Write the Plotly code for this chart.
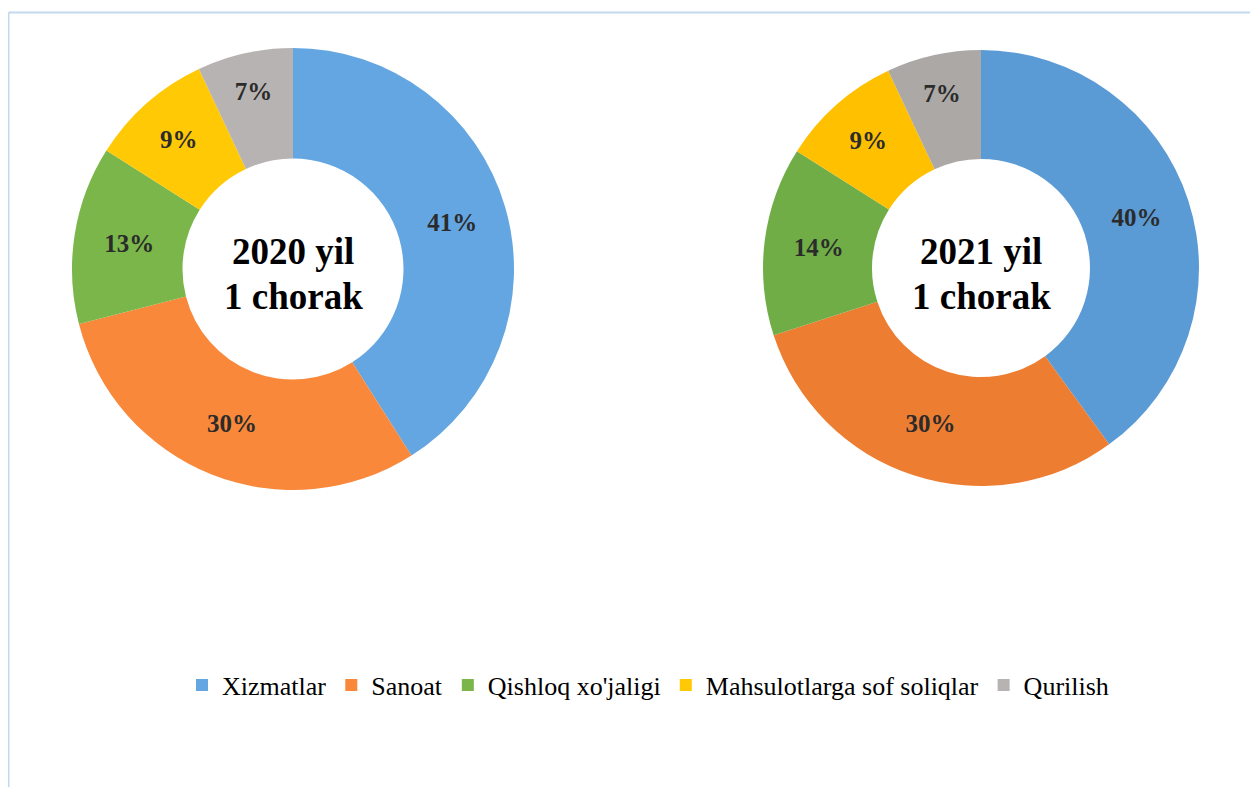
import plotly.graph_objects as go

# page body has an 8px margin; reference coordinates are given in page pixels
OFF = 8
W, H = 1258 - OFF, 787 - OFF

categories = ["Xizmatlar", "Sanoat", "Qishloq xo'jaligi", "Mahsulotlarga sof soliqlar", "Qurilish"]
values_2020 = [41, 30, 13, 9, 7]
values_2021 = [40, 30, 14, 9, 7]
colors_2020 = ["#64A6E1", "#F9883A", "#7AB64A", "#FFC906", "#B7B3B2"]
colors_2021 = ["#5B9BD5", "#ED7D31", "#70AD47", "#FFC000", "#ABA8A6"]
center_2020 = ["2020 yil", "1 chorak"]
center_2021 = ["2021 yil", "1 chorak"]


def px(x):
    return (x - OFF) / W


def py(y):
    return 1 - (y - OFF) / H


def px_domain(x0, x1, y0, y1):
    return dict(x=[px(x0), px(x1)], y=[py(y1), py(y0)])


label_font = dict(family="Liberation Serif", size=25, color="#2B2B2B")

fig = go.Figure()
fig.add_trace(go.Pie(
    labels=categories, values=values_2020, hole=0.5, sort=False,
    direction="clockwise", rotation=0,
    marker=dict(colors=colors_2020, line=dict(width=0)),
    texttemplate="<b>%{percent:.0%}</b>",
    textposition="inside", insidetextorientation="horizontal",
    textfont=label_font,
    domain=px_domain(72, 514, 48, 490),
    showlegend=True, hoverinfo="label+value",
))
fig.add_trace(go.Pie(
    labels=categories, values=values_2021, hole=0.5, sort=False,
    direction="clockwise", rotation=0,
    marker=dict(colors=colors_2021, line=dict(width=0)),
    texttemplate="<b>%{percent:.0%}</b>",
    textposition="inside", insidetextorientation="horizontal",
    textfont=label_font,
    domain=px_domain(763, 1199, 50, 486),
    showlegend=False, hoverinfo="label+value",
))

center_font = dict(family="Liberation Serif", size=37, color="#000000")
for cx, lines in ((293, center_2020), (981, center_2021)):
    for i, line in enumerate(lines):
        fig.add_annotation(x=px(cx), y=py(252 + 44 * i), xref="paper", yref="paper",
                           xanchor="center", yanchor="middle",
                           text="<b>" + line + "</b>", showarrow=False,
                           font=center_font)

border = "#C3D9EF"
fig.add_shape(type="line", xref="paper", yref="paper",
              x0=px(8.5), x1=px(8.5), y0=0, y1=py(12.5),
              line=dict(color=border, width=2))
fig.add_shape(type="line", xref="paper", yref="paper",
              x0=px(8.5), x1=1, y0=py(12.5), y1=py(12.5),
              line=dict(color=border, width=2))

fig.update_layout(
    width=W, height=H,
    margin=dict(l=0, r=0, t=0, b=0),
    paper_bgcolor="white", plot_bgcolor="white",
    legend=dict(orientation="h", x=px(648), xanchor="center",
                y=py(685), yanchor="middle",
                font=dict(family="Liberation Serif", size=26, color="#000000"),
                traceorder="normal", itemwidth=30),
)

fig.write_html("out.html")
